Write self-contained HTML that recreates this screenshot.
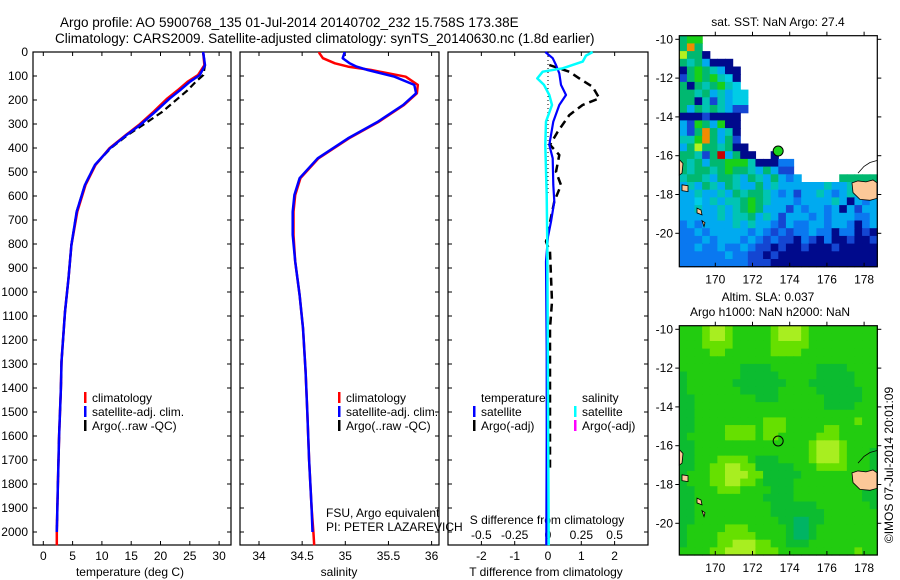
<!DOCTYPE html>
<html><head><meta charset="utf-8"><style>
html,body{margin:0;padding:0;background:#fff;width:900px;height:580px;overflow:hidden}
svg{display:block;font-family:"Liberation Sans",sans-serif}
text{font-size:12px;fill:#000}
</style></head><body>
<svg id="fig" width="900" height="580" viewBox="0 0 900 580">
<text x="60" y="27" style="font-size:13.5px">Argo profile: AO 5900768_135 01-Jul-2014 20140702_232 15.758S 173.38E</text>
<text x="55" y="43" style="font-size:13.5px">Climatology: CARS2009. Satellite-adjusted climatology: synTS_20140630.nc (1.8d earlier)</text>
</svg>
<script>
// ---------- profile data ----------
const tempDepth=[0,5,55,96,124,160,193,249,304,346,401,471,554,665,804,943,1082,1290,1400,1600,1800,2000];
const tempSat=[27.3,27.3,27.6,26.7,25.0,23.3,21.6,19.1,16.5,14.2,11.4,8.8,7.1,5.7,4.8,4.3,3.7,3.1,3.0,2.7,2.5,2.3];
const tempClimDepth=[0,5,55,96,124,160,193,249,304,346,401,471,554,665,804,943,1082,1290,1400,1600,1800,2000,2055];
const tempClim=[27.3,27.3,27.5,26.4,24.6,22.9,21.2,18.8,16.3,14.1,11.3,8.9,7.2,5.8,4.8,4.3,3.7,3.1,3.0,2.7,2.5,2.3,2.3];
const tempArgoDepth=[5,55,96,124,160,193,249,304,346,401,471,554,665,804,943,1082,1290,1400,1600,1800,2000];
const tempArgo=[27.3,27.6,27.3,26.0,24.6,23.0,20.3,17.0,14.4,11.5,8.8,7.1,5.7,4.8,4.3,3.7,3.1,3.0,2.7,2.5,2.3];
const salDepth=[0,5,26,47,61,75,103,137,172,221,290,360,443,526,596,665,762,873,1012,1151,1332,1500,1700,1900,2000];
const salSat=[34.99,34.99,34.97,35.05,35.13,35.26,35.57,35.80,35.82,35.67,35.38,35.03,34.68,34.47,34.41,34.39,34.39,34.42,34.47,34.51,34.54,34.56,34.58,34.61,34.62];
const salClimDepth=[0,5,26,47,61,75,103,137,172,221,290,360,443,526,596,665,762,873,1012,1151,1332,1500,1700,1900,2000,2055];
const salClim=[34.70,34.70,34.74,34.88,35.03,35.30,35.70,35.84,35.83,35.68,35.39,35.04,34.69,34.48,34.42,34.40,34.40,34.42,34.47,34.51,34.54,34.56,34.58,34.61,34.63,34.64];
const tdiffDepth=[0,26,54,89,137,179,221,290,387,443,554,623,707,769,873,1248,1600,2055];
const tdiffSat=[-0.08,0.14,0.24,0.34,0.39,0.54,0.34,0.16,0.04,0.14,0.16,0.19,0.09,0,-0.06,-0.04,-0.04,-0.05];
const sdiffDepth=[0,15,40,68,82,110,137,179,221,290,387,596,804,2055];
const sdiffSat=[0.335,0.285,0.26,0.11,-0.04,-0.08,-0.03,0.01,0.03,-0.015,-0.02,-0.01,-0.005,0.005];
const targoDepth=[54,82,110,145,193,221,263,332,387,429,499,554,623,790,832,1040,1151,1332,1750];
const targo=[0.04,0.64,0.94,1.34,1.54,1.04,0.64,0.29,0.06,0.34,0.24,0.39,0.19,-0.06,0.06,0.12,0.06,0.06,0.06];
const depthTicks=[0,100,200,300,400,500,600,700,800,900,1000,1100,1200,1300,1400,1500,1600,1700,1800,1900,2000];
const tempTicks=[0,5,10,15,20,25,30];
const salTicks=[34,34.5,35,35.5,36];
const tdTicks=[-2,-1,0,1,2];
const sdTicks=[-0.5,-0.25,0,0.25,0.5];
const sdTickLabels=["-0.5","-0.25","0","0.25","0.5"];
// ---------- map data ----------
const lonTicks=[170,172,174,176,178];
const latTicks=[-10,-12,-14,-16,-18,-20];
const argoLon=173.38, argoLat=-15.758;
const sstGrid=[
"Ggg.......................",
"GoG.......................",
"yGGN......................",
"GtGcNNN...................",
"NGgGtcNN..................",
"BGgGgtCN..................",
"GNGtGgtC..................",
"GGtGctcCC.................",
"GGNtBtcCC.................",
"GcGtGtcBB.................",
"NNNBNNNN..................",
"cBgGcgNN..................",
"cBGoGctN..................",
"ttgoGcGB..................",
"cGyGGtGNN.................",
"GGtBGrcGNN..N.............",
"GtGcGGgggtNNNbb...........",
"GtGGtGgGGtcGcBB...........",
"tGGtcGGtcGtcGcbc.....GGGGG",
"ctcGtcGtccGctcccccctcctGtc",
"cctcctcGtGGtcbcBcctcbctcGc",
"ccCctcttGgGtcccbcccctcNcbc",
"cctcctctGgGcccBcbccbcNcBcc",
"ccccctcttGctcBcccbcbcccbbc",
"bcbcccctctccbBcbbccbccbNbc",
"bbcbcccccbcbBbBbbcbbNbbNBN",
"bbbcbcccbcbBbBBNbBNbNNBNNB",
"bbcbbcbbcbBBNBNNBNNNBNNNNN",
"bbbbbbcbbBBNBNNNNNNNNNNNNN",
"bbbbbbbbbBBBNNNNNNNNNNNNNN"];
const slaGrid=[
"ggglyylggggglyyylggggggggg",
"ggglyylggggglyyylggggggggg",
"gggllllggggglllllggggggggg",
"ggggllggggggllllgggggggggg",
"gggggggggggggggggggggggggg",
"ggggggggddddggggggddddgggg",
"dgggggggdddddgggggdddddggg",
"dggggggdddddddgggddddddggg",
"dgggggggdddddgggggddddddgg",
"ddggggggggdddggggggdddddgg",
"ddgggggggggggggggggddddggg",
"ddgggggggggggggggggggggggg",
"ddggggggggglllggggggggglgg",
"ddggggllllglllgggggllggggg",
"dgggggllllgllggggglllggggg",
"ddggggggggggggggglyyylgggg",
"ddggggggggggggggglyyylgggd",
"ddgggllllgdddgggglyyylgggd",
"ddggllyylldddddgggllllgggd",
"dgggllyyylldddddggggggggdd",
"dgggllyyllgddddgggggggggdd",
"ddggglllggggdddgggggggggdd",
"ddgggggggggddddgggggggggdd",
"ddggggggggggddddddgggggggd",
"ddggggggggggdddddddggggggg",
"ddgggggggggggddttddggggggg",
"dggggglllgggggdttdgggggggg",
"dgggglllllggggdttdgggggggg",
"dggggllyyyllggdddggggggggg",
"ggggllyyyylllgggggggggglgg"];
const sstColors={N:"#000a8c",B:"#1446d2",b:"#0a78f0",c:"#00aaf0",C:"#00cce6",t:"#00c4b4",G:"#00b870",g:"#18d018",y:"#b4f020",o:"#f08c00",r:"#c80000"};
const slaColors={g:"#22cc10",l:"#66e000",y:"#a8ee20",d:"#0cbc30",t:"#00b464"};

const NS="http://www.w3.org/2000/svg";
const svg=document.getElementById("fig");
function mk(tag,attrs,parent){const e=document.createElementNS(NS,tag);for(const k in attrs)e.setAttribute(k,attrs[k]);(parent||svg).appendChild(e);return e;}
function txt(x,y,s,anchor,size){const t=mk("text",{x:x,y:y,"text-anchor":anchor||"start"});if(size)t.style.fontSize=size+"px";t.textContent=s;return t;}

// ---------- panels ----------
const PT=52, PB=545;
const yD=d=>PT+d*0.24;
const panels=[
 {name:"temperature",x0:33,x1:231},
 {name:"salinity",x0:240,x1:439},
 {name:"difference",x0:448,x1:648}];
const xT=v=>43.3+v*5.86;
const xS=v=>259+(v-34)*86.3;
const xTd=v=>548+v*33.3;
const xSd=v=>548+v*133.3;

function line(xs,ds,fx,color,w,dash,name){
  let p="";for(let i=0;i<xs.length;i++){p+=(i?"L":"M")+fx(xs[i]).toFixed(1)+","+yD(ds[i]).toFixed(1);}
  const e=mk("path",{d:p,fill:"none",stroke:color,"stroke-width":w,"stroke-linejoin":"round"});
  if(dash)e.setAttribute("stroke-dasharray",dash);
  
  
  return e;
}
panels.forEach((p,pi)=>{
  const r=mk("rect",{x:p.x0,y:PT,width:p.x1-p.x0,height:PB-PT,fill:"#fff",stroke:"#000","stroke-width":1.2});
  
  
  depthTicks.forEach(d=>{
    mk("line",{x1:p.x0,x2:p.x0+4,y1:yD(d),y2:yD(d),stroke:"#000"});
    mk("line",{x1:p.x1-4,x2:p.x1,y1:yD(d),y2:yD(d),stroke:"#000"});
  });
});
depthTicks.forEach(d=>{
  const t=txt(28,yD(d)+4,String(d),"end");
  
  
});
tempTicks.forEach(v=>{
  mk("line",{x1:xT(v),x2:xT(v),y1:PT,y2:PT+4,stroke:"#000"});
  mk("line",{x1:xT(v),x2:xT(v),y1:PB-4,y2:PB,stroke:"#000"});
  const t=txt(xT(v),560,String(v),"middle");
  
  
});
let at=txt(130,576,"temperature (deg C)","middle");


salTicks.forEach(v=>{
  mk("line",{x1:xS(v),x2:xS(v),y1:PT,y2:PT+4,stroke:"#000"});
  mk("line",{x1:xS(v),x2:xS(v),y1:PB-4,y2:PB,stroke:"#000"});
  const t=txt(xS(v),560,String(v),"middle");
  
  
});
at=txt(339,576,"salinity","middle");


tdTicks.forEach(v=>{
  mk("line",{x1:xTd(v),x2:xTd(v),y1:PB-4,y2:PB,stroke:"#000"});
  const t=txt(xTd(v),560,String(v),"middle");
  
  
});
sdTicks.forEach((v,i)=>{
  mk("line",{x1:xSd(v),x2:xSd(v),y1:PT,y2:PT+4,stroke:"#000"});
  const t=txt(xSd(v),539,sdTickLabels[i],"middle");
  
  
});
at=txt(546,576,"T difference from climatology","middle");


at=txt(547,524,"S difference from climatology","middle");


at=txt(326,517,"FSU, Argo equivalent");


at=txt(326,531,"PI: PETER LAZAREVICH");



line(tempClim,tempClimDepth,xT,"#f00",2.5,null,"temp-climatology-line");
line(tempArgo,tempArgoDepth,xT,"#000",2.2,"7 4","temp-argo-line");
line(tempSat,tempDepth,xT,"#00f",2.5,null,"temp-satellite-line");
line(salClim,salClimDepth,xS,"#f00",2.5,null,"sal-climatology-line");
line(salSat,salDepth,xS,"#00f",2.5,null,"sal-satellite-line");
let z=mk("line",{x1:548,x2:548,y1:PT,y2:yD(600),stroke:"#000","stroke-width":1,"stroke-dasharray":"1 3"});


line(targo,targoDepth,xTd,"#000",2.5,"8 5","t-diff-argo-line");
line(tdiffSat,tdiffDepth,xTd,"#00f",2.2,null,"t-diff-satellite-line");
line(sdiffSat,sdiffDepth,xSd,"#0ff",2.5,null,"s-diff-satellite-line");

function legend(x,y,color,label,name){
  const g=mk("g",{});
  
  
  mk("rect",{x:x,y:y-10,width:2.5,height:11,fill:color},g);
  const t=mk("text",{x:x+8,y:y},g);t.textContent=label;
}
legend(84,402,"#f00","climatology","legend-temp-climatology");
legend(84,416,"#00f","satellite-adj. clim.","legend-temp-satellite");
legend(84,430,"#000","Argo(..raw -QC)","legend-temp-argo");
legend(338,402,"#f00","climatology","legend-sal-climatology");
legend(338,416,"#00f","satellite-adj. clim.","legend-sal-satellite");
legend(338,430,"#000","Argo(..raw -QC)","legend-sal-argo");
at=txt(481,402,"temperature");


at=txt(582,402,"salinity");


legend(473,416,"#00f","satellite","legend-tdiff-satellite");
legend(473,430,"#000","Argo(-adj)","legend-tdiff-argo");
legend(574,416,"#0ff","satellite","legend-sdiff-satellite");
legend(574,430,"#f0f","Argo(-adj)","legend-sdiff-argo");

// ---------- maps ----------
const MX0=679.3, MX1=877.3;
const mx=lon=>715.3+(lon-170)*18.6;
function drawMap(top,bottom,lat10y,grid,colors,prefix,argoFill){
  const my=lat=>lat10y+(-10-lat)*19.4;
  const rows=grid.length, cols=26;
  const cw=(MX1-MX0)/cols, ch=(bottom-top)/rows;
  for(let r=0;r<rows;r++){
    for(let c=0;c<cols;c++){
      const k=grid[r][c]||".";
      if(k==="."||!colors[k])continue;
      const cell=mk("rect",{x:(MX0+c*cw).toFixed(2),y:(top+r*ch).toFixed(2),width:(cw+0.6).toFixed(2),height:(ch+0.6).toFixed(2),fill:colors[k]});
      
      
    }
  }
  const land=[
    "M852,"+my(-17.4)+" L858,"+my(-17.3)+" L866,"+my(-17.35)+" L873,"+my(-17.25)+" L877,"+my(-17.4)+" L877,"+my(-18.2)+" L870,"+my(-18.3)+" L860,"+my(-18.25)+" L853,"+my(-17.9)+"Z",
    "M682,"+my(-17.5)+" L688,"+my(-17.55)+" L688,"+my(-17.85)+" L682,"+my(-17.8)+"Z",
    "M697,"+my(-18.7)+" L701,"+my(-18.8)+" L702,"+my(-19.05)+" L697,"+my(-18.95)+"Z",
    "M702,"+my(-19.35)+" L705,"+my(-19.45)+" L704,"+my(-19.65)+"Z",
    "M679.3,"+my(-16.2)+" L683,"+my(-16.4)+" L682,"+my(-16.9)+" L679.3,"+my(-17)+"Z"];
  land.forEach(d=>{
    const l=mk("path",{d:d,fill:"#fcc898",stroke:"#000","stroke-width":0.8});
    
    
  });
  const cst=mk("path",{d:"M858,"+my(-16.9)+" L864,"+my(-16.55)+" L870,"+my(-16.35)+" L877,"+my(-16.25),fill:"none",stroke:"#000","stroke-width":0.8});
  
  
  const fr=mk("rect",{x:MX0,y:top,width:MX1-MX0,height:bottom-top,fill:"none",stroke:"#000","stroke-width":1.2});
  
  
  lonTicks.forEach(v=>{
    mk("line",{x1:mx(v),x2:mx(v),y1:top,y2:top-4,stroke:"#000"});
    mk("line",{x1:mx(v),x2:mx(v),y1:bottom,y2:bottom-4,stroke:"#000"});
    const t=txt(mx(v),bottom+17,String(v),"middle");
    
    
  });
  latTicks.forEach(v=>{
    mk("line",{x1:MX0,x2:MX0-4,y1:my(v),y2:my(v),stroke:"#000"});
    mk("line",{x1:MX1,x2:MX1+4,y1:my(v),y2:my(v),stroke:"#000"});
    const t=txt(673,my(v)+4,String(v),"end");
    
    
  });
  const a=mk("circle",{cx:mx(argoLon),cy:my(argoLat),r:5,fill:argoFill,stroke:"#000","stroke-width":1});
  
  
}
drawMap(35.7,266.7,39.3,sstGrid,sstColors,"sst-map","#1cd41c");
drawMap(325.7,555,329.3,slaGrid,slaColors,"sla-map","none");
at=txt(778,26,"sat. SST: NaN Argo: 27.4","middle");


at=txt(768,301,"Altim. SLA: 0.037","middle");


at=txt(770,316,"Argo h1000: NaN h2000: NaN","middle");


at=txt(0,0,"\u00a9IMOS 07-Jul-2014 20:01:09","middle");
at.setAttribute("transform","translate(893,465) rotate(-90)");


</script>
</body></html>
